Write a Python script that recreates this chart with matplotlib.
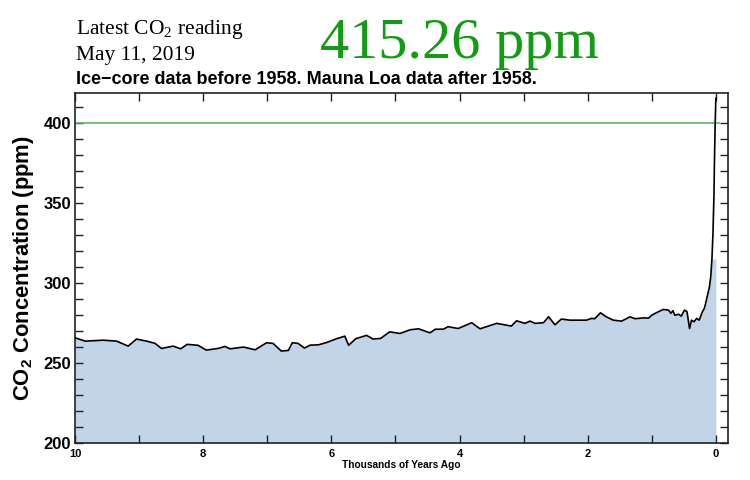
import matplotlib
matplotlib.use("Agg")
import matplotlib.pyplot as plt
from matplotlib.ticker import MultipleLocator
import numpy as np

# Thousands of years ago and CO2 concentration (ppm)
ka = [10.0, 9.84, 9.56, 9.35, 9.17, 9.04, 8.86, 8.75, 8.65, 8.47, 8.35, 8.25,
      8.08, 7.95, 7.76, 7.66, 7.58, 7.37, 7.19, 7.01, 6.91, 6.78, 6.67, 6.61,
      6.52, 6.42, 6.33, 6.20, 6.07, 5.92, 5.79, 5.73, 5.62, 5.45, 5.35, 5.23,
      5.09, 4.93, 4.77, 4.64, 4.46, 4.38, 4.25, 4.18, 4.02, 3.81, 3.68, 3.42,
      3.19, 3.11, 2.98, 2.90, 2.82, 2.69, 2.61, 2.51, 2.41, 2.28, 2.02, 1.94,
      1.89, 1.80, 1.71, 1.60, 1.47, 1.34, 1.26, 1.13, 1.05, 1.00, 0.93, 0.82,
      0.74, 0.70, 0.67, 0.64, 0.58, 0.54, 0.49, 0.45, 0.43, 0.41, 0.38, 0.34,
      0.30, 0.26, 0.21, 0.18, 0.16, 0.13, 0.10, 0.08, 0.061, 0.045, 0.03,
      0.02, 0.01, 0.0]
ppm = [265.7, 263.6, 264.2, 263.6, 260.5, 264.9, 263.4, 262.2, 259.0, 260.5,
       258.8, 261.6, 261.0, 258.0, 259.1, 260.3, 258.8, 259.9, 258.2, 262.6,
       262.2, 257.4, 257.8, 262.6, 262.2, 259.3, 261.1, 261.3, 262.8, 265.1,
       266.7, 261.0, 265.1, 267.2, 264.9, 265.3, 269.4, 268.4, 270.7, 271.3,
       268.8, 271.0, 271.1, 272.6, 271.5, 275.1, 271.3, 274.7, 273.0, 276.3,
       274.7, 276.1, 274.7, 275.1, 278.8, 273.8, 277.4, 276.7, 276.7, 277.8,
       277.6, 281.3, 278.8, 276.7, 276.1, 278.8, 277.6, 278.1, 278.0, 279.8,
       281.3, 283.4, 283.0, 281.0, 282.6, 279.8, 280.4, 279.2, 283.0, 282.0,
       276.7, 271.5, 276.7, 275.7, 277.8, 276.7, 281.9, 284.0, 287.1, 292.3,
       297.5, 303.7, 315.0, 330.8, 354.0, 380.0, 400.0, 415.26]

latest_value = "415.26 ppm"
latest_date = "May 11, 2019"
ref_level = 400

fig = plt.figure(figsize=(7.5, 4.8), dpi=100)
ax = fig.add_axes([0.1, 0.0771, 0.8707, 0.729])

x = np.array(ka)
y = np.array(ppm)
ax.fill_between(x, np.minimum(y, 315), 200, color="#c1d4e8", linewidth=0, zorder=1)
ax.plot(x, y, color="black", linewidth=1.2, zorder=3)
ax.hlines(ref_level, 10, -0.07, color="#5cb46a", linewidth=1.2, zorder=2)

ax.set_xlim(10, -0.19)
ax.set_ylim(200, 418.5)

ax.yaxis.set_major_locator(MultipleLocator(50))
ax.yaxis.set_minor_locator(MultipleLocator(10))
ax.tick_params(axis="both", which="both", direction="in", top=True, right=True,
               width=1.0, color="#222222")
ax.tick_params(axis="both", which="major", length=5.5)
ax.tick_params(axis="y", which="minor", length=5.5)
ax.set_xticks([10, 9, 8, 7, 6, 5, 4, 3, 2, 1, 0])
ax.set_xticklabels(["10", "", "8", "", "6", "", "4", "", "2", "", "0"],
                   fontsize=8, fontweight="bold", family="Liberation Sans")
ax.tick_params(axis="x", pad=4)
ax.tick_params(axis="y", pad=3)
for lab in ax.get_yticklabels():
    lab.set_fontsize(12)
    lab.set_fontweight("bold")
    lab.set_family("Liberation Sans")
for s in ax.spines.values():
    s.set_linewidth(1.2)
    s.set_color("#222222")

ax.set_ylabel("CO$_\\mathregular{2}$ Concentration (ppm)", fontsize=15.8,
              fontweight="bold", family="Liberation Sans", labelpad=5)
ax.set_xlabel("Thousands of Years Ago", fontsize=7.3, fontweight="bold",
              family="Liberation Sans", labelpad=1)

fig.text(76 / 750, 1 - 34 / 480, "Latest CO$_\\mathregular{2}$ reading",
         fontsize=15.5, family="Liberation Serif", va="baseline", ha="left")
fig.text(76 / 750, 1 - 60 / 480, latest_date, fontsize=15.5,
         family="Liberation Serif", va="baseline", ha="left")
fig.text(320 / 750, 1 - 58 / 480, latest_value, fontsize=42,
         family="Liberation Serif", color="#149b14", va="baseline", ha="left")
fig.text(76 / 750, 1 - 84 / 480,
         "Ice\u2212core data before 1958. Mauna Loa data after 1958.",
         fontsize=13, fontweight="bold", family="Liberation Sans",
         va="baseline", ha="left")

fig.savefig("out.png", dpi=100)
